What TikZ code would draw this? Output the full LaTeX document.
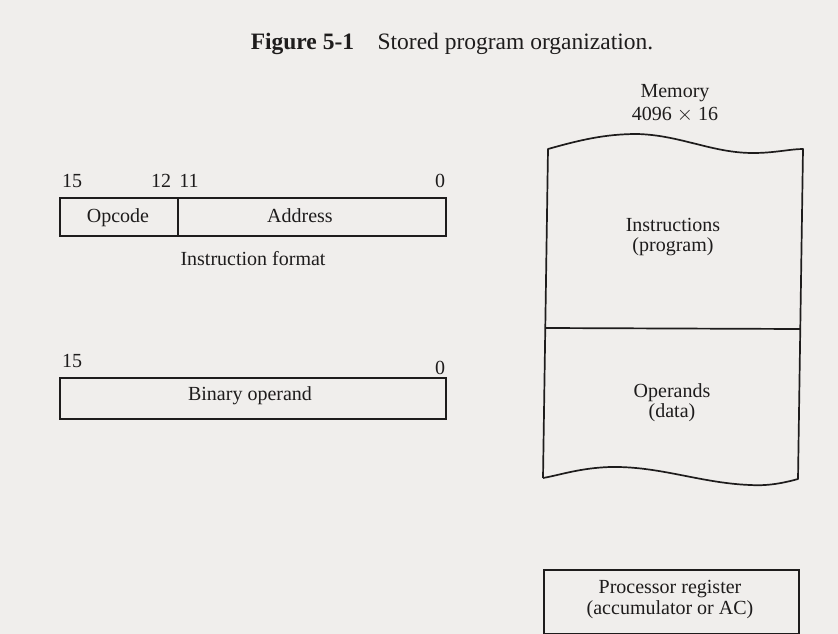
\documentclass[tikz,border=0pt]{standalone}
\usepackage{fontspec}
\setmainfont{Liberation Serif}
\definecolor{paper}{RGB}{240,238,236}
\definecolor{ink}{RGB}{30,28,28}
\begin{document}
\begin{tikzpicture}[x=1pt,y=-1pt,
  every node/.style={text=ink,font=\fontsize{20}{22}\selectfont},
  lbl/.style={anchor=base,inner sep=0pt},
  frame/.style={draw=ink,line width=1.7pt},
  field/.style={frame,rectangle,inner sep=0pt,anchor=north west}]
  % page
  \fill[paper] (0,0) rectangle (838,634);
  \useasboundingbox (0,0) rectangle (838,634);

  % caption
  \node[lbl,font=\fontsize{23.5}{26}\selectfont] (cap) at (452,50)
    {\textbf{Figure 5-1}\quad Stored program organization.};

  % instruction word
  \node[field,minimum width=118pt,minimum height=38pt] (opc) at (59,197) {};
  \node[field,minimum width=268pt,minimum height=38pt] (adr) at (177,197) {};
  \node[lbl] (tOpc) at (118,222) {Opcode};
  \node[lbl] (tAdr) at (300,222) {Address};
  \node[lbl] (b15a) at (72,187) {15};
  \node[lbl] (b12) at (161,187) {12};
  \node[lbl] (b11) at (189,187) {11};
  \node[lbl] (b0a) at (440,187) {0};
  \node[lbl] (ifmt) at (253,265) {Instruction format};

  % data word
  \node[field,minimum width=386pt,minimum height=41pt] (opd) at (59,377) {};
  \node[lbl] (tOpd) at (250,400) {Binary operand};
  \node[lbl] (b15b) at (72,367) {15};
  \node[lbl] (b0b) at (440,374) {0};

  % memory
  \node[lbl] (mem) at (675,97) {Memory};
  \node[lbl] (msz) at (675,121) {4096 $\times$ 16};
  \coordinate (mTL) at (548,149);
  \coordinate (mTR) at (803,149);
  \coordinate (mBL) at (543,478);
  \coordinate (mBR) at (798,479);
  \coordinate (mDL) at (545,328);
  \coordinate (mDR) at (800,329);
  \draw[frame,line join=round]
    (mBL) -- (mTL)
    .. controls (580,140) and (605,134) .. (637,134)
    .. controls (680,135) and (712,153) .. (753,153)
    .. controls (775,153) and (790,149) .. (mTR)
    -- (mBR)
    .. controls (780,484) and (765,486) .. (750,485)
    .. controls (700,483) and (660,466) .. (610,467)
    .. controls (580,468) and (560,475) .. (mBL);
  \draw[frame] (mDL) -- (mDR);
  \node[lbl] (tIns) at (673,231) {Instructions};
  \node[lbl] (tPrg) at (673,251) {(program)};
  \node[lbl] (tOps) at (672,397) {Operands};
  \node[lbl] (tDat) at (672,417) {(data)};

  % accumulator
  \node[field,minimum width=255pt,minimum height=64pt] (acc) at (543,569) {};
  \node[lbl] (tAcc1) at (670,593) {Processor register};
  \node[lbl] (tAcc2) at (670,614) {(accumulator or AC)};
\end{tikzpicture}
\end{document}
